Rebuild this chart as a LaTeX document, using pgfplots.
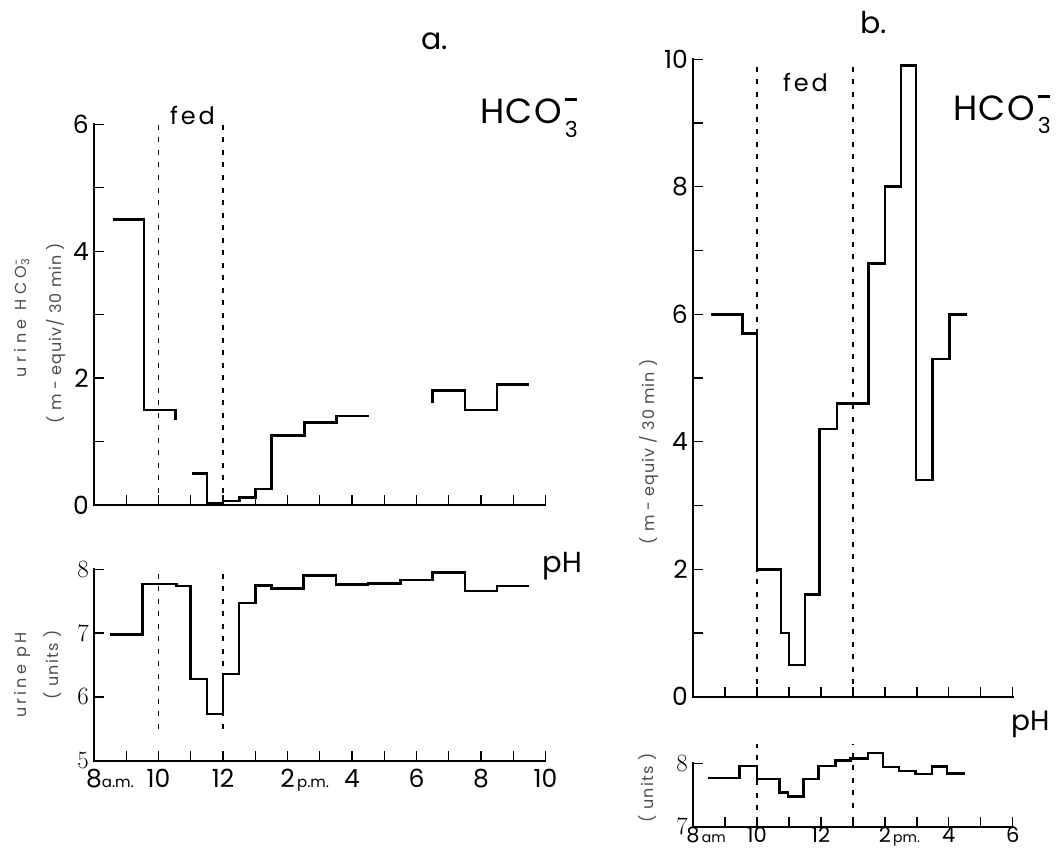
\documentclass[border=0pt]{standalone}
\usepackage{fontspec}
\setmainfont{Poppins}
\usepackage{pgfplots}
\pgfplotsset{compat=1.18}
\pgfplotsset{
  panel/.style={
    scale only axis, axis lines*=left,
    axis line style={line width=1.7pt, line cap=rect, black},
    tick align=inside, major tick length=10pt,
    tick style={line width=1.4pt, black},
    clip=false,
    yticklabel style={anchor=east, inner sep=0pt, xshift=-5pt, font=\fontsize{25}{26}\selectfont},
    xticklabel style={anchor=base, inner sep=0pt, font=\fontsize{25}{26}\selectfont},
  },
  step/.style={line width=2.6pt, black, line join=miter, mark=none},
  fedline/.style={line width=1.6pt, dash pattern=on 5pt off 7.5pt, black, mark=none},
}
\newcommand{\hco}{{\addfontfeature{LetterSpace=4}\fontsize{35}{40}\selectfont HCO}\hspace{3pt}\rlap{\raisebox{22.5pt}{\rule{12pt}{3pt}}}\raisebox{-13.3pt}{\fontsize{22}{24}\selectfont 3}}
\newcommand{\lab}{\fontsize{16}{18}\selectfont}
\begin{document}
\begin{tikzpicture}
\path[use as bounding box] (0,0) rectangle (1062pt,-853pt);

% ---------- panel a, HCO3 ----------
\begin{axis}[panel, at={(94pt,-505pt)}, anchor=south west,
  width=451.5pt, height=380.7pt,
  xmin=8, xmax=22, ymin=0, ymax=6,
  xtick={9,...,22}, xticklabels={},
  ytick={0,...,6}, yticklabels={0,,2,,4,,6}]
\addplot[fedline] coordinates {(10,0) (10,6)};
\addplot[fedline] coordinates {(12,0) (12,6)};
\addplot[step] coordinates {(8.6,4.5) (9.55,4.5) (9.55,1.5) (10.52,1.5) (10.52,1.34)};
\addplot[step, const plot] coordinates {(11.03,0.5) (11.5,0.03) (12.0,0.06) (12.52,0.12) (13.0,0.25) (13.5,1.1) (14.52,1.3) (15.52,1.4) (16.52,1.4)};
\addplot[step] coordinates {(18.5,1.6) (18.5,1.8) (19.5,1.8) (19.5,1.5) (20.5,1.5) (20.5,1.9) (21.5,1.9)};
\end{axis}

% ---------- panel a, pH ----------
\begin{axis}[panel, at={(94pt,-760.7pt)}, anchor=south west,
  width=451.5pt, height=191.4pt,
  xmin=8, xmax=22, ymin=5, ymax=8,
  xtick={8,...,22},
  xticklabels={8\rlap{\fontsize{15}{16}\selectfont a.m.},,10,,12,,2\rlap{\fontsize{15}{16}\selectfont\,p.m.},,4,,6,,8,,10},
  xticklabel style={yshift=-27pt},
  ytick={5,6,7,8}]
\addplot[fedline] coordinates {(10,5.5) (10,8)};
\addplot[fedline] coordinates {(12,5.5) (12,8)};
\addplot[step, const plot] coordinates {(8.5,6.98) (9.5,7.77) (10.55,7.74) (11.0,6.28) (11.5,5.73) (12.0,6.36) (12.5,7.47) (13.0,7.75) (13.5,7.70) (14.5,7.90) (15.5,7.76) (16.5,7.78) (17.5,7.83) (18.5,7.95) (19.5,7.66) (20.5,7.74) (21.5,7.74)};
\end{axis}

% ---------- panel b, HCO3 ----------
\begin{axis}[panel, at={(693pt,-696.7pt)}, anchor=south west,
  width=319.7pt, height=637.4pt,
  xmin=8, xmax=18, ymin=0, ymax=10,
  xtick={9,...,18}, xticklabels={},
  ytick={0,...,10}, yticklabels={0,,2,,4,,6,,8,,10}]
\addplot[fedline] coordinates {(10,0) (10,10)};
\addplot[fedline] coordinates {(13,0) (13,10)};
\addplot[step, const plot] coordinates {(8.55,6.0) (9.55,5.7) (10.0,2.0) (10.75,1.0) (11.0,0.5) (11.5,1.6) (11.95,4.2) (12.5,4.6) (13.48,6.8) (14.0,8.0) (14.5,9.9) (14.97,3.4) (15.5,5.3) (16.02,6.0) (16.58,6.0)};
\end{axis}

% ---------- panel b, pH ----------
\begin{axis}[panel, at={(693pt,-826.7pt)}, anchor=south west,
  width=319.7pt, height=63.4pt,
  xmin=8, xmax=18, ymin=7, ymax=8,
  xtick={8,...,18},
  xticklabels={8\rlap{\fontsize{14}{15}\selectfont\,am},,10,,12,,2\rlap{\fontsize{14}{15}\selectfont\,pm.},,4,,6},
  xticklabel style={yshift=-15.5pt, font=\fontsize{21}{22}\selectfont},
  ytick={7,8}]
\addplot[fedline] coordinates {(10,7.26) (10,8.3)};
\addplot[fedline] coordinates {(13,7.3) (13,8.3)};
\addplot[step, const plot] coordinates {(8.48,7.77) (9.45,7.96) (10.0,7.75) (10.7,7.54) (10.97,7.48) (11.46,7.75) (11.93,7.96) (12.45,8.04) (12.93,8.08) (13.47,8.16) (13.94,7.94) (14.44,7.88) (14.95,7.83) (15.47,7.95) (15.95,7.84) (16.5,7.84)};
\end{axis}

% ---------- texts ----------
\node[anchor=base west, inner sep=0] at (421pt,-50pt) {\fontsize{30}{32}\selectfont a.};
\node[anchor=base west, inner sep=0] at (860pt,-34pt) {\fontsize{30}{32}\selectfont b.};
\node[anchor=base west, inner sep=0] at (480pt,-124pt) {\hco};
\node[anchor=base west, inner sep=0] at (953pt,-120.7pt) {\hco};
\node[anchor=base west, inner sep=0] at (542pt,-572pt) {\fontsize{29}{30}\selectfont pH};
\node[anchor=base west, inner sep=0] at (1011pt,-730pt) {\fontsize{28}{30}\selectfont pH};
\node[anchor=base west, inner sep=0] at (170pt,-125pt) {\addfontfeature{LetterSpace=12}\fontsize{24}{26}\selectfont fed};
\node[anchor=base west, inner sep=0] at (783pt,-91.7pt) {\addfontfeature{LetterSpace=12}\fontsize{24}{26}\selectfont fed};

\node[rotate=90, inner sep=0, text=black!70] at (22pt,-318pt) {\lab\addfontfeature{LetterSpace=28}urine HCO\rlap{\textsuperscript{-}}\textsubscript{3}};
\node[rotate=90, inner sep=0, text=black!70] at (55.7pt,-333pt) {\lab\addfontfeature{LetterSpace=6}( m - equiv/ 30 min )};
\node[rotate=90, inner sep=0, text=black!70] at (22pt,-675pt) {\lab\addfontfeature{LetterSpace=20}urine pH};
\node[rotate=90, inner sep=0, text=black!70] at (52.5pt,-665pt) {\lab\addfontfeature{LetterSpace=8}( units )};
\node[rotate=90, inner sep=0, text=black!70] at (649pt,-452pt) {\lab\addfontfeature{LetterSpace=6}( m - equiv / 30 min )};
\node[rotate=90, inner sep=0, text=black!70] at (648pt,-788pt) {\lab\addfontfeature{LetterSpace=8}( units )};
\end{tikzpicture}
\end{document}
